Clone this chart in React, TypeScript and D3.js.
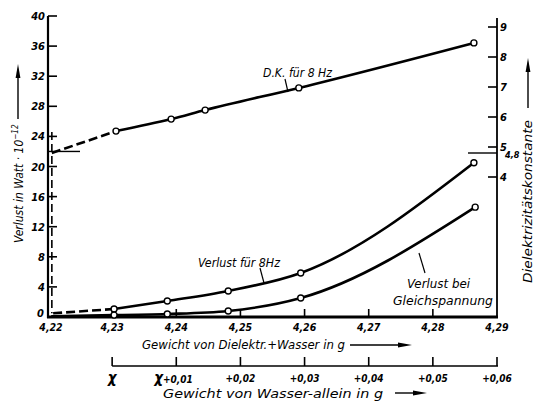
import React from "react";
import * as d3 from "d3";

// ---- data ----
const massTicks = [4.22, 4.23, 4.24, 4.25, 4.26, 4.27, 4.28, 4.29];
const massTickLabels = ["4,22", "4,23", "4,24", "4,25", "4,26", "4,27", "4,28", "4,29"];
const lossTicks = [0, 4, 8, 12, 16, 20, 24, 28, 32, 36, 40];
const dkTicks = [4, 5, 6, 7, 8, 9];
const waterTicks = [0, 0.01, 0.02, 0.03, 0.04, 0.05, 0.06];
const waterTickLabels = ["", "+0,01", "+0,02", "+0,03", "+0,04", "+0,05", "+0,06"];

const dkMass = [4.2306, 4.2392, 4.2445, 4.2591, 4.2864];
const dkValues = [5.53, 5.93, 6.23, 6.97, 8.47];
const loss8Mass = [4.2303, 4.2386, 4.2481, 4.2594, 4.2864];
const loss8Values = [1.06, 2.13, 3.46, 5.85, 20.5];
const lossDcMass = [4.2303, 4.2386, 4.2481, 4.2594, 4.2866];
const lossDcValues = [0.25, 0.4, 0.8, 2.52, 14.6];

const dkExtrapStart = { mass: 4.2206, value: 4.8 };
const loss8ExtrapStart = { mass: 4.2208, value: 0.5 };
const breakLoss = 22;
const breakDk = 4.8;

const FONT = "'DejaVu Sans Condensed', 'Liberation Sans Narrow', 'Liberation Sans', sans-serif";

export default function App() {
  const W = 536, H = 401;
  const x = d3.scaleLinear().domain([4.22, 4.29]).range([48, 497]);
  const yL = d3.scaleLinear().domain([0, 40]).range([317, 16]);
  const yR = d3.scaleLinear().domain([4, 9]).range([177, 27]);
  const xw = d3.scaleLinear().domain([0, 0.06]).range([x(4.23), x(4.29)]);

  type P = [number, number];
  const lineL = d3.line<P>().x(d => x(d[0])).y(d => yL(d[1])).curve(d3.curveMonotoneX);
  const lineR = d3.line<P>().x(d => x(d[0])).y(d => yR(d[1])).curve(d3.curveMonotoneX);
  const straightL = d3.line<P>().x(d => x(d[0])).y(d => yL(d[1]));
  const straightR = d3.line<P>().x(d => x(d[0])).y(d => yR(d[1]));

  const dkPts: P[] = dkMass.map((m, i) => [m, dkValues[i]]);
  const l8Pts: P[] = loss8Mass.map((m, i) => [m, loss8Values[i]]);
  const ldcPts: P[] = lossDcMass.map((m, i) => [m, lossDcValues[i]]);

  const curveW = 2.6;
  const tickFont = { fontFamily: FONT, fontStyle: "italic", fontWeight: 700, fontSize: 11 } as const;
  const labFont = { fontFamily: FONT, fontStyle: "italic", fontSize: 12.5 } as const;

  const arrowH = (x0: number, x1: number, y: number) => (
    <g>
      <line x1={x0} x2={x1 - 8} y1={y} y2={y} stroke="#000" strokeWidth={1.4} />
      <polygon points={`${x1},${y} ${x1 - 14},${y - 2.4} ${x1 - 14},${y + 2.4}`} fill="#000" />
    </g>
  );
  const arrowV = (xx: number, y0: number, y1: number) => (
    <g>
      <line x1={xx} x2={xx} y1={y0} y2={y1 + 8} stroke="#000" strokeWidth={1.4} />
      <polygon points={`${xx},${y1} ${xx - 2.4},${y1 + 14} ${xx + 2.4},${y1 + 14}`} fill="#000" />
    </g>
  );

  return (
    <svg width={W} height={H} style={{ position: "absolute", left: 0, top: 0, background: "#fff" }}>
      <rect width={W} height={H} fill="#fff" />
      {/* axes */}
      <line x1={x(4.22)} x2={x(4.22)} y1={yL(40)} y2={yL(0) + 1} stroke="#000" strokeWidth={2.2} />
      <line x1={x(4.22) - 1} x2={x(4.29) + 1} y1={yL(0)} y2={yL(0)} stroke="#000" strokeWidth={3} />
      <line x1={x(4.29)} x2={x(4.29)} y1={18} y2={yL(0)} stroke="#000" strokeWidth={1.8} />

      {/* left ticks */}
      {lossTicks.map(t => (
        <g key={"l" + t}>
          {t > 0 && <line x1={x(4.22)} x2={x(4.22) + 9} y1={yL(t)} y2={yL(t)} stroke="#000" strokeWidth={1.6} />}
          <text x={t === 0 ? 44 : 45} y={yL(t) + (t === 0 ? 0 : 4)} textAnchor="end" {...tickFont}>{t}</text>
        </g>
      ))}
      {/* right ticks */}
      {dkTicks.map(t => (
        <g key={"r" + t}>
          <line x1={x(4.29) - 9} x2={x(4.29)} y1={yR(t)} y2={yR(t)} stroke="#000" strokeWidth={1.6} />
          <text x={x(4.29) + 3} y={yR(t) + 4} {...tickFont}>{t}</text>
        </g>
      ))}
      <text x={x(4.29) + 8} y={yR(breakDk) + 5} {...tickFont} fontSize={9}>4,8</text>
      {/* bottom ticks */}
      {massTicks.map((t, i) => (
        <g key={"b" + t}>
          {i > 0 && i < massTicks.length - 1 && (
            <line x1={x(t)} x2={x(t)} y1={yL(0)} y2={yL(0) - 8} stroke="#000" strokeWidth={1.6} />
          )}
          <text x={x(t) + (i === 0 ? 3 : 0)} y={331} textAnchor="middle" {...tickFont} fontSize={10.5}>{massTickLabels[i]}</text>
        </g>
      ))}

      {/* break markers */}
      <line x1={x(4.22)} x2={x(4.22) + 32} y1={yL(breakLoss)} y2={yL(breakLoss)} stroke="#000" strokeWidth={1.4} />
      <line x1={x(4.29) - 29} x2={x(4.29)} y1={yR(breakDk)} y2={yR(breakDk)} stroke="#000" strokeWidth={1.4} />
      <line x1={x(4.2206)} x2={x(4.2206)} y1={yR(5.5)} y2={yL(0.5)} stroke="#000" strokeWidth={1.6} strokeDasharray="8,4" />

      {/* extrapolations */}
      <path d={straightR([[dkExtrapStart.mass, dkExtrapStart.value], dkPts[0]]) || ""} fill="none" stroke="#000" strokeWidth={curveW} strokeDasharray="9,4" />
      <path d={straightL([[loss8ExtrapStart.mass, loss8ExtrapStart.value], l8Pts[0]]) || ""} fill="none" stroke="#000" strokeWidth={curveW} strokeDasharray="9,4" />
      <path d={straightL([[4.2205, 0.1], ldcPts[0]]) || ""} fill="none" stroke="#000" strokeWidth={curveW} />

      {/* curves */}
      <path d={lineR(dkPts) || ""} fill="none" stroke="#000" strokeWidth={curveW} />
      <path d={lineL(l8Pts) || ""} fill="none" stroke="#000" strokeWidth={curveW} />
      <path d={lineL(ldcPts) || ""} fill="none" stroke="#000" strokeWidth={curveW} />
      {dkPts.map((p, i) => <circle key={"dk" + i} cx={x(p[0])} cy={yR(p[1])} r={3} fill="#fff" stroke="#000" strokeWidth={1.4} />)}
      {l8Pts.map((p, i) => <circle key={"l8" + i} cx={x(p[0])} cy={yL(p[1])} r={3} fill="#fff" stroke="#000" strokeWidth={1.4} />)}
      {ldcPts.map((p, i) => <circle key={"ld" + i} cx={x(p[0])} cy={yL(p[1])} r={3} fill="#fff" stroke="#000" strokeWidth={1.4} />)}

      {/* curve labels */}
      <text x={263} y={77} {...labFont} fontSize={11.5} textLength={69} lengthAdjust="spacingAndGlyphs">D.K. für 8 Hz</text>
      <line x1={285} y1={79} x2={288} y2={92} stroke="#000" strokeWidth={1.2} />
      <text x={198} y={267} {...labFont} fontSize={12} textLength={82} lengthAdjust="spacingAndGlyphs">Verlust für 8Hz</text>
      <line x1={260} y1={268} x2={264} y2={283} stroke="#000" strokeWidth={1.2} />
      <text x={407} y={288} {...labFont} fontSize={13} textLength={63} lengthAdjust="spacingAndGlyphs">Verlust bei</text>
      <text x={393} y={305} {...labFont} fontSize={13} textLength={100} lengthAdjust="spacingAndGlyphs">Gleichspannung</text>
      <line x1={419} y1={253} x2={425} y2={273} stroke="#000" strokeWidth={1.2} />

      {/* x title 1 */}
      <text x={142} y={349} {...labFont} textLength={203} lengthAdjust="spacingAndGlyphs">Gewicht von Dielektr.+Wasser in g</text>
      {arrowH(350, 412, 345)}

      {/* water axis */}
      <line x1={xw(0)} x2={xw(0.06) + 1} y1={366} y2={366} stroke="#000" strokeWidth={1.6} />
      {waterTicks.map((t, i) => (
        <g key={"w" + t}>
          <line x1={xw(t)} x2={xw(t)} y1={366} y2={357} stroke="#000" strokeWidth={1.6} />
          {i === 0 ? (
            <text x={xw(t)} y={383} textAnchor="middle" {...tickFont} fontSize={15}>χ</text>
          ) : i === 1 ? (
            <text x={xw(t) - 22} y={383} {...tickFont} fontSize={10}>
              <tspan fontSize={15}>χ</tspan>+0,01
            </text>
          ) : (
            <text x={xw(t)} y={382} textAnchor="middle" {...tickFont} fontSize={10}>{waterTickLabels[i]}</text>
          )}
        </g>
      ))}
      <text x={163} y={398} {...labFont} textLength={220} lengthAdjust="spacingAndGlyphs">Gewicht von Wasser-allein in g</text>
      {arrowH(395, 427, 393)}

      {/* left title */}
      <text transform="translate(23,243) rotate(-90)" {...labFont} fontSize={12}>
        <tspan>Verlust in Watt · 10</tspan>
        <tspan dy={-5} fontSize={8}>−12</tspan>
      </text>
      {arrowV(18, 119, 64)}

      {/* right title */}
      <text transform="translate(532,283) rotate(-90)" {...labFont} fontSize={12} textLength={163} lengthAdjust="spacingAndGlyphs">Dielektrizitätskonstante</text>
      {arrowV(528, 108, 58)}
    </svg>
  );
}
